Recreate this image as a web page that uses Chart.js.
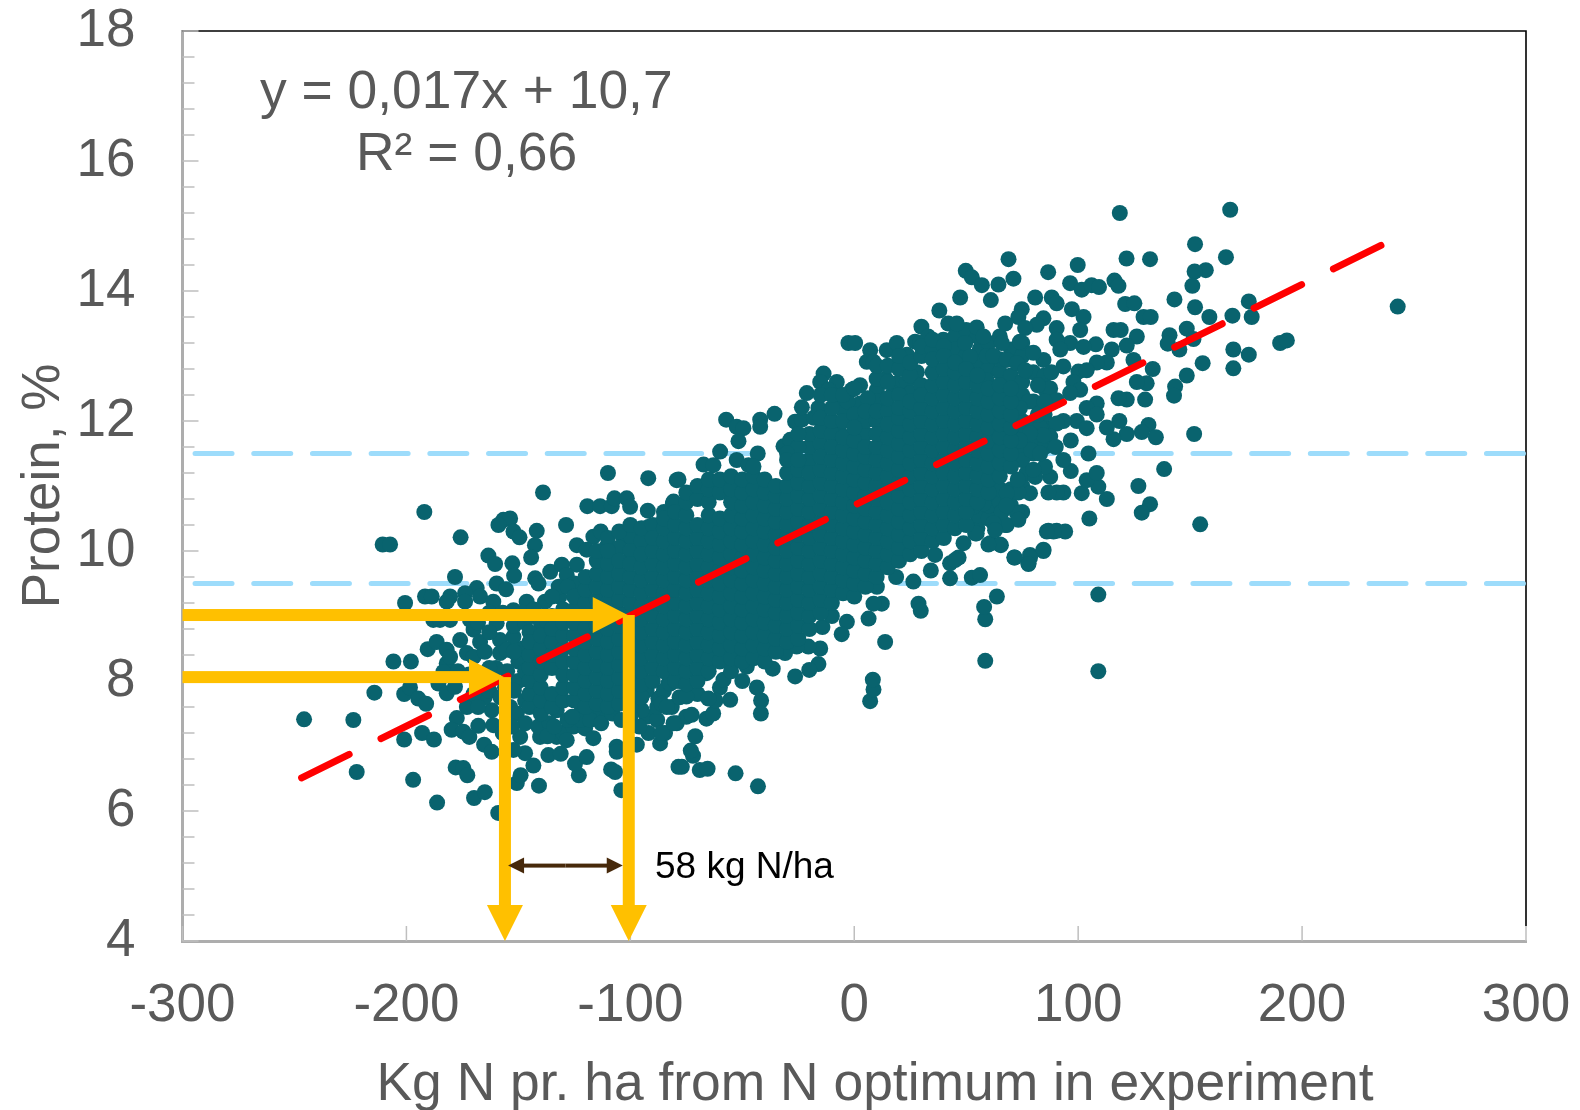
<!DOCTYPE html>
<html><head><meta charset="utf-8">
<script src="https://cdn.jsdelivr.net/npm/chart.js@4"></script>
<style>html,body{margin:0;padding:0;background:#fff}canvas{display:block}</style>
</head><body><canvas id="c" width="1580" height="1110"></canvas>
<script>
// Scattered points: [N offset, protein]
const lowTailPoints=[[-245.7,7.41],[-223.7,7.4],[-222.2,6.6],[-214.3,7.82],[-210.6,10.1],[-207.3,10.1],[-192,10.6],[-175.8,10.21],[-205.8,8.3],[-198,8.3],[-139,10.9],[-110,11.2],[-92,11.12],[-200.6,9.2],[-178.3,9.6],[-197,6.48],[-186.3,6.13],[-201,7.1],[-193,7.2],[-187.7,7.1],[-201,7.8],[-178,6.67],[-174.6,6.66],[-172.8,6.55],[-169.8,6.2],[-165,6.29],[-159,5.97],[-150.7,6.43],[-149,6.55],[-140.8,6.39],[-143.3,6.7],[-123,6.55],[-124.7,6.73],[-119.5,6.83],[-108.6,6.64],[-106.8,6.6],[-104,6.32],[-156.7,10.48],[-153.7,10.5],[-158.9,10.4],[-152.2,10.3],[-149.5,10.21],[-141.8,10.31],[-142.6,10.09],[-144.3,9.9],[-163.4,9.93],[-160.4,9.8],[-152.7,9.81],[-151.9,9.62],[-159.7,9.5],[-155.5,9.41],[-168.6,9.43],[-167.1,9.3],[-173.8,9.35],[-173.8,9.22],[-180.5,9.3],[-182,9.22],[-191.7,9.3],[-188.7,9.3],[-161.2,9.22],[-146.3,9.22],[-138.1,9.22],[-142.5,9.58],[-135.8,9.68],[-130.6,9.79],[-123.9,9.79],[-141,9.5],[-128.4,9.63],[-131.7,9.3],[-128.7,10.4],[-116.5,10.22],[-113.2,10.3],[-119.2,10.69],[-113.5,10.69],[-108.3,10.69],[-107.1,10.81],[-101.6,10.81],[-100.1,10.68],[-123.9,10.09],[-119.5,10.02],[-92.2,10.62],[-91.9,10.37],[-92.7,10.02],[-88.2,9.91],[-81,10.73],[-79.3,11.09],[-103.1,10.21],[-99.4,10.2],[-110.5,10.07],[-107.6,9.91],[-100.1,9.81],[-190.5,8.49],[-186.5,8.6],[-182,8.48],[-182,8.27],[-180.5,8.37],[-176,8.63],[-170,8.79],[-167.1,8.6],[-173,8.43],[-170,8.37],[-159.7,8.89],[-152.2,9.09],[-158.2,8.63],[-152.2,8.68],[-158.2,8.43],[-155.2,8.48],[-188,8.94],[-180.5,8.94],[-171.6,8.94],[-185,8.94],[-198.4,7.9],[-194.7,7.73],[-191.2,7.65],[-185.7,7.96],[-182,7.81],[-178.3,7.91],[-183.5,8.14],[-173,7.6],[-177.5,7.43],[-179.8,7.25],[-174.6,7.22],[-171.9,7.14],[-167.9,7.31],[-165.3,7.02],[-161.9,6.91],[-161.9,7.55],[-161.2,7.32],[-153.7,7.6],[-150.7,7.5],[-149.2,7.14],[-147,6.89],[-152.2,6.94],[-140.3,7.14],[-132.9,7.14],[-129.9,7.2],[-125.4,7.3],[-120.2,7.27],[-116.5,7.12],[-136.6,6.86],[-131.1,6.88],[-128.4,7.09],[-132.9,7.55],[-121.7,7.55],[-112.8,7.48],[-116.5,7.55],[-106.1,6.99],[-106.1,6.91],[-97.1,7.02],[-91.9,7.2],[-86.7,7.04],[-84.5,7.2],[-92.7,7.45],[-94.9,7.55],[-87.5,7.73],[-81.5,7.6],[-79.3,7.35],[-78.5,6.68],[-83,7.96],[-92.7,7.86],[-165,8.1],[-150,8.0],[-150,8.3],[-155,8.15],[-160,8.2],[-148,8.5],[-152,8.85],[-147,8.9],[-145,9.0],[-140,8.9],[-135,9.0],[-145,8.75],[-165,7.75],[-170,7.8],[-156,7.9],[-147,7.35],[-141,7.3],[-136,7.35],[-128,7.4],[-122,7.4],[-157,7.2],[-153,7.3]];
const lowFillPoints=[[-168,8.9],[-163,9.05],[-157,9.05],[-163,8.75],[-148,9.05],[-165,8.45],[-163,8.2],[-177,8.15],[-172,8.1],[-168,7.6],[-163,7.85],[-158,7.75],[-152,7.85],[-147,8.15],[-152,8.45],[-147,7.7],[-143,9.1],[-137,8.9],[-132,9.45],[-125,9.5],[-135,9.3],[-128,9.45],[-137,7.15],[-134,7.3],[-126,7.45],[-118,7.4],[-113,7.35],[-108,7.5],[-104,7.4],[-100,7.45],[-96,7.3],[-88,7.4],[-85,7.85],[-78,7.75],[-70,7.8],[-60,7.9],[-50,8.0],[-88,7.6],[-78,8.0],[-53,6.58],[-43,6.38],[-77,6.68],[-69,6.63],[-65.5,6.65],[-72,6.85],[-73,6.93],[-71,7.15],[-75,7.45],[-66,7.42],[-63,7.5],[-62,7.7],[-86,7.65],[-86,7.2],[-110,10.2],[-105,10.05],[-105,10.3],[-100,10.0],[-100,10.4],[-95,10.15],[-95,10.35],[-90,10.4],[-85,10.6]];
const midLowerEdgePoints=[[58.5,8.31],[7.1,7.69],[8.6,7.87],[8.3,8.02],[13.8,8.6],[58.5,8.95],[58,9.14],[63.7,9.3],[28.7,9.19],[29.7,9.08],[52.5,9.59],[56.2,9.63],[42.8,9.58],[26.4,9.53],[18.7,9.6],[34.2,9.7],[36.1,9.94],[46.6,9.9],[42.8,9.81],[71.6,9.9],[77.8,9.81],[78.5,9.94],[84.5,10.02],[86.7,10.31],[90.4,10.31],[60.7,10.12],[65.5,10.09],[54,10.27],[73.3,10.58],[68.1,10.4],[65.2,10.63],[12.3,9.19],[10.1,9.45],[8.6,9.19],[6.4,8.96],[-3.3,8.91],[-5.6,8.72],[-14.2,8.83],[-10,9],[-15.2,8.5],[-16,8.26],[-20.1,8.17],[-26.4,8.07],[-36.4,8.19],[-43.5,7.9],[-41.6,7.7],[-41.7,7.5],[-55.4,7.71],[-65.1,7.73],[-72.6,7.48],[-75,7.76],[-82.2,7.96],[-83.7,7.6],[-80.7,7.35],[-58.4,8.02],[-48,8.22],[-65.9,8.12],[-30.9,8.43],[-20.5,8.53],[-25.7,8.53],[109,8.15],[109,9.33]];
const midUpperEdgePoints=[[-57.2,12.02],[-52.5,11.91],[-49.5,11.89],[-51.7,11.69],[-42,12.02],[-42,11.91],[-35.6,12.11],[-26.4,11.99],[-23.4,12.02],[-21.2,12.43],[-23.4,12.21],[-13.7,12.73],[-7.8,12.6],[-15.2,12.6],[2.6,12.55],[-1.1,12.48],[-11.5,12.48],[-5.6,12.19],[2.6,12.27],[10.1,12.48],[10.1,12.3],[-13.5,11.89],[-6.3,11.81],[2.6,12.02],[19,12.58],[23.5,12.6],[25,12.43],[17.5,12.43],[-2.6,13.2],[0.4,13.2],[7.1,13.09],[5.6,12.91],[8.6,12.91],[14.5,13.09],[19,13.2],[23.5,13.02],[27.2,13.22],[29.4,13.2],[36.9,13.04],[39.8,13.25],[49.5,13.2],[51.8,12.96],[-67.3,11.33],[-59.9,11.53],[-43.1,11.5],[-78.5,11.1],[-80.7,10.76],[-31.6,11.61],[-28.6,11.71],[-52.5,11.4],[-47.2,11.32],[-62.9,11.32],[-18,12.05],[-16,12.2],[-8,12.35],[-3,12.3],[6,12.35],[14,12.65],[28,12.75],[42,13.5],[38,13.7],[30,13.45],[33,13.3],[45,13.3],[56,13.1],[62,13.0]];
const highFillPoints=[[45,13.1],[50,13.0],[50,13.4],[55,12.9],[55,13.3],[60,12.8],[60,13.2],[65,12.75],[65,12.95],[65,13.3],[70,12.7],[70,13.1],[75,11.6],[75,11.8],[75,12.0],[75,12.4],[75,12.6],[75,13.0],[75,13.2],[80,11.5],[80,11.7],[80,11.9],[80,12.3],[80,12.75],[85,11.9],[85,12.1],[85,12.5],[85,12.7],[55,10.35],[55,10.55],[60,10.5],[60,10.7],[65,10.75],[65,10.95],[70,10.7],[70,10.95],[75,10.6],[75,11.0],[85,11.6],[83,11.9],[-20,11.4],[-20,11.6],[-20,11.8],[-15,11.65],[-15,11.85],[-15,12.05],[-15,12.4],[-10,11.8],[-10,12.0],[-10,12.2],[-10,12.4],[-5,12.0],[-5,12.4],[0,12.1],[0,12.5],[5,11.8],[5,12.0],[5,12.15],[10,12.0],[10,12.15],[15,12.15],[15,12.35],[10,12.65],[10,12.85],[15,12.6],[15,12.85],[20,12.4],[20,12.8],[20,13.0],[25,12.7],[25,12.9],[30,12.55],[30,13.0],[30,13.15],[35,13.1],[35,13.25],[40,13.15],[-25,11.6],[-25,11.8],[-30,11.5]];
const highTailPoints=[[118.6,15.2],[167.9,15.25],[152.2,14.72],[166,14.52],[121.6,14.5],[132.1,14.49],[68.9,14.49],[99.8,14.4],[86.6,14.29],[157,14.32],[152,14.3],[151,14.08],[49.8,14.31],[52.5,14.21],[57,14.09],[64.4,14.1],[71.1,14.19],[47.3,13.9],[61,13.86],[96.4,14.12],[101.6,14.02],[106,14.09],[109.3,14.06],[116.2,14.16],[118,14.08],[121,13.8],[125.1,13.81],[129.2,13.6],[132.4,13.6],[143,13.87],[152.2,13.75],[158.6,13.6],[168.9,13.62],[176.2,13.84],[177.5,13.6],[242.7,13.76],[190.2,13.2],[193.2,13.24],[169.3,13.1],[176.2,13.02],[169.3,12.81],[155.6,12.89],[148.5,12.7],[143.3,12.53],[142.8,12.39],[148.5,13.42],[140.8,13.32],[140,13.19],[151.5,13.26],[145.2,13.1],[133.3,12.8],[126.2,13.3],[121.7,13.16],[115.8,13.4],[119,13.4],[115,13.1],[130.6,12.58],[126.2,12.6],[129.9,12.33],[121.7,12.33],[118,12.35],[124.7,12.94],[112.8,12.9],[108.3,12.9],[107.9,13.18],[151.8,11.8],[131.4,11.94],[128.4,11.83],[134.7,11.75],[121.7,11.8],[115.8,11.72],[118.4,12.0],[112.8,11.9],[138.4,11.26],[126.9,11.0],[132.1,10.72],[128.4,10.59],[154.5,10.41],[105,10.5],[112.8,10.8],[109,10.99],[101.6,10.89],[103.8,11.09],[108.3,11.2],[104.6,11.5],[96.7,11.7],[96.7,11.23],[93.4,11.4],[94.2,10.3],[89,10.3],[86,10.3],[84.5,10],[78.5,9.9],[77.8,9.8],[71.5,9.9],[65.1,10.1],[59.9,10.1]];
const upperRightMassPoints=[[80.8,13.9],[88.2,13.9],[90.4,13.81],[97.2,13.72],[102.4,13.6],[74.8,13.72],[73.3,13.6],[67.4,13.5],[54.7,13.44],[57.7,13.3],[45.8,13.5],[49.5,13.2],[100.9,13.4],[90.4,13.43],[84.5,13.58],[81.5,13.48],[76.3,13.43],[65.9,13.2],[74,13.22],[96.4,13.2],[102.4,13.14],[90.4,13.25],[84.5,12.94],[93.4,12.84],[100.1,12.76],[103.8,12.78],[59.2,13],[62.2,13],[68.1,12.94],[72.6,12.89],[51.7,12.99],[45.8,12.68],[59.2,12.63],[76.3,12.78],[87.5,12.5],[97.9,12.6],[100.9,12.48],[96.4,12.43],[90.4,12.32],[108.3,12.27],[103.8,12.2],[108.3,12.1],[99.4,12],[103.8,11.89],[93.4,12],[90.4,11.96],[87.5,11.76],[84.5,11.78],[78.5,11.81],[93.4,10.9],[90.4,10.9],[86.7,10.9],[78.5,10.89],[73.3,10.9],[68.1,10.89],[87.5,11.14],[85.2,11.3],[65.1,11.32],[77,11.2],[80.8,11.14],[72.6,10.58],[73.3,10.48],[67.4,10.4],[65.9,10.6],[57.7,10.73],[53.2,10.68],[62.2,10.43],[54.7,10.27],[48.8,10.12],[45,9.86],[62.9,10.32],[75,11.4],[79,11.55],[74,11.7],[70,11.9],[82,12.1],[78,12.3],[85,12.3],[74,12.2],[82,12.55],[92,13.1],[80,13.05],[88,12.75],[83,11.5],[90,11.6],[80,11.25],[73,11.1],[68,10.7]];
// Solid core of the cloud
const coreX=[-145,-140,-135,-130,-125,-120,-115,-110,-105,-100,-95,-90,-85,-80,-75,-70,-65,-60,-55,-50,-45,-40,-35,-30,-25,-20,-15,-10,-5,0,5,10,15,20,25,30,35,40,45,50,55,60,65,70];
const coreY=[
[7.6,7.8,8.0,8.2,8.4,8.6],
[7.5,7.7,7.9,8.1,8.3,8.5,8.7],
[7.6,7.8,8.2,8.4,8.6,8.8],
[7.7,7.9,8.1,8.3,8.5,8.7,8.9,9.1],
[7.7,7.9,8.1,8.3,8.5,8.7,8.9,9.1,9.3],
[7.6,7.8,8.0,8.2,8.4,8.6,8.8,9.0,9.2,9.4,9.6],
[7.65,7.85,8.05,8.25,8.45,8.65,8.85,9.05,9.25,9.45,9.65,9.85,10.0],
[7.6,7.8,8.0,8.2,8.4,8.6,8.8,9.0,9.2,9.4,9.6,9.8,10.0],
[7.65,7.85,8.05,8.25,8.45,8.65,8.85,9.05,9.25,9.45,9.65,9.85],
[7.6,7.8,8.0,8.2,8.4,8.6,8.8,9.0,9.2,9.4,9.6,9.8],
[7.75,7.95,8.15,8.35,8.55,8.75,8.95,9.15,9.35,9.55,9.75,9.95],
[8.0,8.2,8.4,8.6,8.8,9.0,9.2,9.4,9.6,9.8,10.0,10.2],
[8.15,8.35,8.55,8.75,8.95,9.15,9.35,9.55,9.75,9.95,10.15,10.35,10.5],
[8.0,8.2,8.4,8.6,8.8,9.0,9.2,9.4,9.6,9.8,10.0,10.2,10.4,10.6],
[7.95,8.15,8.35,8.55,8.75,8.95,9.15,9.35,9.55,9.75,9.95,10.15,10.35,10.55,10.75,10.9],
[8.0,8.2,8.4,8.6,8.8,9.0,9.2,9.4,9.6,9.8,10.0,10.2,10.4,10.8,11.0],
[8.15,8.35,8.55,8.75,8.95,9.15,9.35,9.55,9.75,9.95,10.15,10.35,10.55,10.75,10.95,11.1],
[8.3,8.5,8.7,8.9,9.1,9.3,9.5,9.7,9.9,10.1,10.3,10.5,10.9,11.1],
[8.15,8.35,8.55,8.75,8.95,9.15,9.35,9.55,9.75,9.95,10.15,10.35,10.55,10.75,10.95,11.15],
[8.3,8.5,8.7,8.9,9.1,9.3,9.5,9.7,9.9,10.1,10.3,10.5,10.7,10.9,11.1],
[8.35,8.55,8.75,8.95,9.15,9.35,9.55,9.75,9.95,10.15,10.35,10.55,10.75,10.95,11.15,11.3],
[8.3,8.5,8.7,8.9,9.1,9.3,9.5,9.7,9.9,10.1,10.3,10.5,10.7,10.9,11.1],
[8.45,8.65,8.85,9.05,9.25,9.45,9.65,9.85,10.05,10.25,10.45,10.65,10.85,11.0],
[8.6,8.8,9.0,9.2,9.4,9.6,9.8,10.0,10.2,10.4,10.6,10.8,11.0,11.2,11.4],
[8.65,8.85,9.05,9.25,9.45,9.65,9.85,10.05,10.25,10.45,10.65,10.85,11.05,11.25,11.4],
[8.8,9.0,9.2,9.4,9.6,9.8,10.0,10.2,10.4,10.6,10.8,11.0,11.2],
[9.05,9.25,9.45,9.65,9.85,10.05,10.25,10.45,10.65,10.85,11.05,11.25,11.45],
[9.2,9.4,9.6,9.8,10.0,10.2,10.4,10.6,10.8,11.0,11.2,11.4,11.6],
[9.35,9.55,9.75,9.95,10.15,10.35,10.55,10.75,10.95,11.15,11.35,11.55,11.75],
[9.3,9.5,9.7,9.9,10.1,10.3,10.5,10.7,10.9,11.1,11.3,11.5,11.7,11.9],
[9.45,9.65,9.85,10.05,10.25,10.45,10.65,10.85,11.05,11.25,11.45,11.6],
[9.6,9.8,10.0,10.2,10.4,10.6,10.8,11.0,11.2,11.4,11.6,11.8],
[9.75,9.95,10.15,10.35,10.55,10.75,10.95,11.15,11.35,11.55,11.75,11.95],
[9.85,10.05,10.25,10.45,10.65,10.85,11.05,11.25,11.45,11.65,11.85,12.05,12.2],
[9.95,10.15,10.35,10.55,10.75,10.95,11.15,11.35,11.55,11.75,11.95,12.15,12.3],
[10.0,10.2,10.4,10.6,10.8,11.0,11.2,11.4,11.6,11.8,12.0,12.2,12.4],
[10.15,10.35,10.55,10.75,10.95,11.15,11.35,11.55,11.75,11.95,12.15,12.35,12.55,12.75,12.95],
[10.2,10.4,10.6,10.8,11.0,11.2,11.4,11.6,11.8,12.0,12.2,12.4,12.6,12.8,13.0],
[10.35,10.55,10.75,10.95,11.15,11.35,11.55,11.75,11.95,12.15,12.35,12.55,12.75,12.9],
[10.4,10.6,10.8,11.0,11.2,11.4,11.6,11.8,12.0,12.2,12.4,12.6,12.8],
[10.75,10.95,11.15,11.35,11.55,11.75,11.95,12.15,12.35,12.55,12.7],
[10.9,11.1,11.3,11.5,11.7,11.9,12.1,12.3,12.5],
[11.15,11.35,11.55,11.75,11.95,12.15,12.35,12.55],
[11.3,11.5,11.7,11.9,12.1,12.3,12.5]
];
const xTicks=[-300,-200,-100,0,100,200,300];
const yMinorTicks=[4.4,4.8,5.2,5.6,6.4,6.8,7.2,7.6,8.4,8.8,9.2,9.6,10.4,10.8,11.2,11.6,12.4,12.8,13.2,13.6,14.4,14.8,15.2,15.6,16.4,16.8,17.2,17.6];
const yMajorTicks=[4,6,8,10,12,14,16,18];
const trendX=[-246.8,235.8], trendY=[6.51,14.71];
const bandX=[-294.4,300], bandHigh=11.5, bandLow=9.5;
const arrowLevels=[9.015,8.06], arrowDoses=[-100.7,-156];
const gapArrow=[-154.6,-103.4], gapLevel=5.16;

const TEXT='#595959', GRAY='#ADADAD', TEAL='#09636E', GOLD='#FFC000';
const allPoints=[...lowTailPoints,...lowFillPoints,...midLowerEdgePoints,...midUpperEdgePoints,...highFillPoints,...highTailPoints,...upperRightMassPoints].map(p=>({x:p[0],y:p[1]}));
coreX.forEach((x,i)=>coreY[i].forEach(y=>allPoints.push({x,y})));

function arrow(ctx,x1,y1,x2,y2,w,hl,hw,color){
  const a=Math.atan2(y2-y1,x2-x1);
  ctx.save();ctx.translate(x2,y2);ctx.rotate(a);ctx.fillStyle=color;
  ctx.fillRect(-Math.hypot(x2-x1,y2-y1),-w/2,Math.hypot(x2-x1,y2-y1)-hl+1,w);
  ctx.beginPath();ctx.moveTo(0,0);ctx.lineTo(-hl,-hw/2);ctx.lineTo(-hl,hw/2);ctx.closePath();ctx.fill();ctx.restore();
}
function noPad(s){s.paddingTop=s.paddingBottom=s.paddingLeft=s.paddingRight=0;}
const decor={id:'decor',
  beforeDatasetsDraw(ch){
    const c=ch.ctx,a=ch.chartArea,sx=ch.scales.x,sy=ch.scales.y;
    c.save();
    c.strokeStyle='#000';c.lineWidth=1.6;
    c.beginPath();c.moveTo(a.left,a.top);c.lineTo(a.right,a.top);c.lineTo(a.right,a.bottom-15);c.stroke();
    c.strokeStyle='#BFBFBF';c.lineWidth=1.5;
    c.beginPath();
    yMajorTicks.forEach(v=>{const p=sy.getPixelForValue(v);c.moveTo(a.left,p);c.lineTo(a.left+16,p);});
    yMinorTicks.forEach(v=>{const p=sy.getPixelForValue(v);c.moveTo(a.left,p);c.lineTo(a.left+12,p);});
    xTicks.forEach(v=>{const p=sx.getPixelForValue(v);c.moveTo(p,a.bottom);c.lineTo(p,a.bottom-15);});
    c.stroke();c.restore();
  },
  afterDatasetsDraw(ch){
    const c=ch.ctx,sx=ch.scales.x,sy=ch.scales.y,a=ch.chartArea;
    arrowDoses.forEach((d,i)=>{
      const px=sx.getPixelForValue(d),py=sy.getPixelForValue(arrowLevels[i]);
      arrow(c,px,py,px,a.bottom,12,36,36,GOLD);
      arrow(c,a.left,py,px-1,py,12,35,36,GOLD);
    });
    const gy=sy.getPixelForValue(gapLevel),g1=sx.getPixelForValue(gapArrow[0]),g2=sx.getPixelForValue(gapArrow[1]),gm=(g1+g2)/2;
    arrow(c,gm,gy,g1,gy,4,16,16,'#47290B');arrow(c,gm,gy,g2,gy,4,16,16,'#47290B');
    c.save();c.textBaseline='alphabetic';c.textAlign='left';
    c.fillStyle='#000';c.font='37px "Liberation Sans"';c.fillText('58 kg N/ha',655,878);
    c.fillStyle=TEXT;c.font='53.4px "Liberation Sans"';
    c.fillText('y = 0,017x + 10,7',260,108);
    c.fillText('R² = 0,66',356,170);
    c.textAlign='center';
    c.fillText('Kg N pr. ha from N optimum in experiment',875,1100);
    c.restore();
  }
};
new Chart(document.getElementById('c'),{
  type:'scatter',
  data:{datasets:[
    {label:'Trend',type:'line',data:trendX.map((x,i)=>({x,y:trendY[i]})),borderColor:'#FF0000',borderWidth:7,borderDash:[53,35.5],borderCapStyle:'round',pointRadius:0,fill:false,order:1},
    {label:'Samples',data:allPoints,backgroundColor:TEAL,borderWidth:0,pointRadius:8,order:2},
    {label:'High limit',type:'line',data:bandX.map(x=>({x,y:bandHigh})),borderColor:'#9DDCFB',borderWidth:5,borderDash:[37,21.7],borderCapStyle:'round',pointRadius:0,fill:false,order:3,clip:false},
    {label:'Low limit',type:'line',data:bandX.map(x=>({x,y:bandLow})),borderColor:'#9DDCFB',borderWidth:5,borderDash:[37,21.7],borderCapStyle:'round',pointRadius:0,fill:false,order:3,clip:false}
  ]},
  options:{
    responsive:false,animation:false,
    layout:{padding:{top:31,right:54,bottom:0,left:0}},
    plugins:{legend:{display:false},tooltip:{enabled:false},title:{display:false}},
    scales:{
      x:{type:'linear',min:-300,max:300,afterFit:s=>{s.height=169;noPad(s)},
        grid:{display:false,drawTicks:false},border:{display:true,color:GRAY,width:3},
        afterBuildTicks:s=>{s.ticks=xTicks.map(value=>({value}))},
        ticks:{color:TEXT,font:{family:'"Liberation Sans"',size:53},padding:34,maxRotation:0,autoSkip:false,callback:v=>String(v)}},
      y:{type:'linear',min:4,max:18,afterFit:s=>{s.width=182.5;noPad(s)},
        grid:{display:false,drawTicks:false},border:{display:true,color:GRAY,width:3},
        afterBuildTicks:s=>{s.ticks=yMajorTicks.map(value=>({value}))},
        ticks:{color:TEXT,font:{family:'"Liberation Sans"',size:53},padding:47,autoSkip:false,callback:v=>String(v)},
        title:{display:true,text:'Protein, %',color:TEXT,font:{family:'"Liberation Sans"',size:53},padding:{top:12.5,bottom:0}}}
    }
  },
  plugins:[decor]
});
</script></body></html>
